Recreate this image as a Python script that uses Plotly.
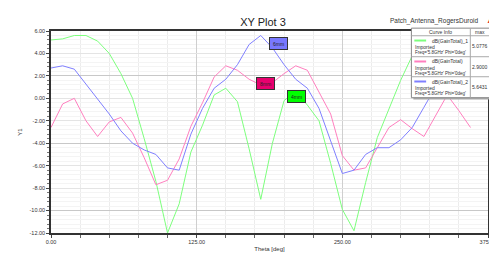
import plotly.graph_objects as go

theta = list(range(0, 361, 10))

gain_1 = [5.2, 5.3, 5.6, 5.6, 5.1, 4.0, 2.2, 0.0, -3.6, -7.4, -12.0, -9.4, -4.8, -2.4, 0.3, 0.9,
          -0.3, -4.5, -9.0, -4.0, -0.2, 0.6, -0.6, -2.0, -5.8, -9.9, -11.8, -7.5, -3.5, -1.0, 1.6,
          3.8, 4.8, 5.1, 5.2, 5.2, 5.2]
gain_0 = [-2.6, -0.5, 0.0, -2.0, -3.4, -2.1, -1.7, -3.1, -5.3, -7.7, -7.3, -5.4, -2.5, -0.4, 1.9, 2.9,
          2.5, 1.7, 1.2, 1.4, 2.2, 2.9, 2.5, 0.6, -1.4, -5.1, -6.4, -6.2, -4.4, -2.6, -1.9, -2.7,
          -3.4, -1.5, 0.3, -1.1, -2.6]
gain_2 = [2.7, 2.9, 2.6, 1.3, 0.0, -1.4, -2.9, -4.0, -4.6, -5.0, -6.2, -6.4, -3.2, -0.9, 0.9, 1.7,
          3.0, 4.8, 5.6, 4.5, 3.0, 1.7, 0.9, -0.9, -3.8, -6.7, -6.4, -5.0, -4.4, -4.4, -3.7, -2.6,
          -0.8, 1.0, 2.0, 2.5, 2.7]

names = ["dB(GainTotal)_1", "dB(GainTotal)", "dB(GainTotal)_2"]
max_vals = ["5.0776", "2.9000", "5.6431"]
colors = ["#7dff7d", "#ff7fbf", "#7f7fff"]
label_texts = ["4mm", "8mm", "6mm"]
label_bg = ["#00ff00", "#e8006e", "#7878ff"]
label_pos = [(211, 0.2), (184, 1.35), (195, 4.9)]

x_ticks = [0, 125, 250, 375]
y_ticks = list(range(-12, 7, 2))

W, H = 497, 253
L, R, T, B = 43, 488, 23, 235

def px(xp):
    return (xp - L) / (R - L)

def py(yp):
    return (B - yp) / (B - T)

fig = go.Figure()
fig.add_trace(go.Scatter(x=[None], y=[None], yaxis="y2", showlegend=False, hoverinfo="skip"))
for ys, c, n in zip([gain_1, gain_0, gain_2], colors, names):
    fig.add_trace(go.Scatter(x=theta, y=ys, mode="lines", line=dict(color=c, width=1), name=n,
                             showlegend=False))

font = "Liberation Sans, Arial, sans-serif"
fig.update_layout(
    width=W, height=H,
    margin=dict(l=L, r=W - R, t=T, b=H - B),
    paper_bgcolor="white", plot_bgcolor="white",
    font=dict(family=font, color="#333333"),
    title=dict(text="XY Plot 3", x=255 / W, y=1 - 14 / H, xref="container", yref="container",
               xanchor="center", yanchor="middle", font=dict(size=11, color="#222222")),
    xaxis=dict(range=[0, 375], tickvals=x_ticks, ticktext=[f"{v:.2f}" for v in x_ticks],
               tickfont=dict(size=5.5), showgrid=True, gridcolor="#cfcfcf", gridwidth=1,
               ticks="outside", ticklen=3, tickcolor="#444",
               minor=dict(dtick=25, showgrid=True, gridcolor="#ececec", ticks="outside",
                          ticklen=3, tickcolor="#666"),
               showline=True, linecolor="#333", linewidth=1.5, mirror=True, zeroline=False,
               title=dict(text="Theta [deg]", font=dict(size=6), standoff=2)),
    yaxis=dict(range=[-12, 6], tickvals=y_ticks, ticktext=[f"{v:.2f}" for v in y_ticks],
               tickfont=dict(size=5.5), showgrid=True, gridcolor="#e4e4e4", gridwidth=1,
               ticks="outside", ticklen=3, tickcolor="#444",
               minor=dict(dtick=0.4, tick0=0, showgrid=True, gridcolor="#f4f4f4", ticks="outside",
                          ticklen=2, tickcolor="#777"),
               showline=True, linecolor="#333", linewidth=1.5, mirror=True, zeroline=False,
               title=dict(text="Y1", font=dict(size=6), standoff=6)),
    yaxis2=dict(range=[-12, 6], overlaying="y", tick0=2, dtick=6, showgrid=True,
                gridcolor="#c8c8c8", showticklabels=False, ticks="", zeroline=False,
                showline=False),
)

annotations = []
shapes = []

annotations.append(dict(text="Patch_Antenna_RogersDuroid", xref="paper", yref="paper",
                        x=px(481), y=py(13), showarrow=False, font=dict(size=6.5, color="#333"),
                        xanchor="right", yanchor="middle"))
annotations.append(dict(text="▲", xref="paper", yref="paper", x=px(490), y=py(12),
                        showarrow=False, font=dict(size=8, color="#e03030"),
                        xanchor="center", yanchor="middle"))

# legend box
lx0, lx1, ly0, ly1 = 410, 491, 20, 93
shapes.append(dict(type="rect", xref="paper", yref="paper", x0=px(lx0 + 2), x1=px(lx1 + 2),
                   y0=py(ly1 + 2), y1=py(ly0 + 2), fillcolor="#a8a8a8", line=dict(width=0)))
shapes.append(dict(type="rect", xref="paper", yref="paper", x0=px(lx0), x1=px(lx1),
                   y0=py(ly1), y1=py(ly0), fillcolor="white", line=dict(color="#888", width=1)))
shapes.append(dict(type="line", xref="paper", yref="paper", x0=px(470), x1=px(470),
                   y0=py(ly1), y1=py(ly0), line=dict(color="#aaa", width=1)))
for yl in [28, 50, 71]:
    shapes.append(dict(type="line", xref="paper", yref="paper", x0=px(lx0), x1=px(lx1),
                       y0=py(yl), y1=py(yl), line=dict(color="#aaa", width=1)))
annotations.append(dict(text="Curve Info", xref="paper", yref="paper", x=px(440), y=py(24),
                        showarrow=False, font=dict(size=5, color="#333"), xanchor="center",
                        yanchor="middle"))
annotations.append(dict(text="max", xref="paper", yref="paper", x=px(480), y=py(24),
                        showarrow=False, font=dict(size=5, color="#333"), xanchor="center",
                        yanchor="middle"))
row_tops = [28, 50, 71]
for rt, c, n, mv in zip(row_tops, colors, names, max_vals):
    shapes.append(dict(type="line", xref="paper", yref="paper", x0=px(413), x1=px(425),
                       y0=py(rt + 5), y1=py(rt + 5), line=dict(color=c, width=2)))
    annotations.append(dict(text=n, xref="paper", yref="paper", x=px(429), y=py(rt + 5),
                            showarrow=False, font=dict(size=5, color="#333"), xanchor="left",
                            yanchor="middle"))
    annotations.append(dict(text="Imported", xref="paper", yref="paper", x=px(412), y=py(rt + 12),
                            showarrow=False, font=dict(size=5, color="#333"), xanchor="left",
                            yanchor="middle"))
    annotations.append(dict(text="Freq='5.8GHz' Phi='0deg'", xref="paper", yref="paper", x=px(412),
                            y=py(rt + 18), showarrow=False, font=dict(size=4.5, color="#333"),
                            xanchor="left", yanchor="middle"))
    annotations.append(dict(text=mv, xref="paper", yref="paper", x=px(480), y=py(rt + 11),
                            showarrow=False, font=dict(size=5, color="#333"), xanchor="center",
                            yanchor="middle"))

for (lxv, lyv), t, bg in zip(label_pos, label_texts, label_bg):
    annotations.append(dict(text=t, x=lxv, y=lyv, xref="x", yref="y", showarrow=False,
                            font=dict(size=5, color="#222"), bgcolor=bg, bordercolor="#333",
                            borderwidth=1, borderpad=1.5, width=14, height=8))

fig.update_layout(annotations=annotations, shapes=shapes)
fig.write_html("out.html")
